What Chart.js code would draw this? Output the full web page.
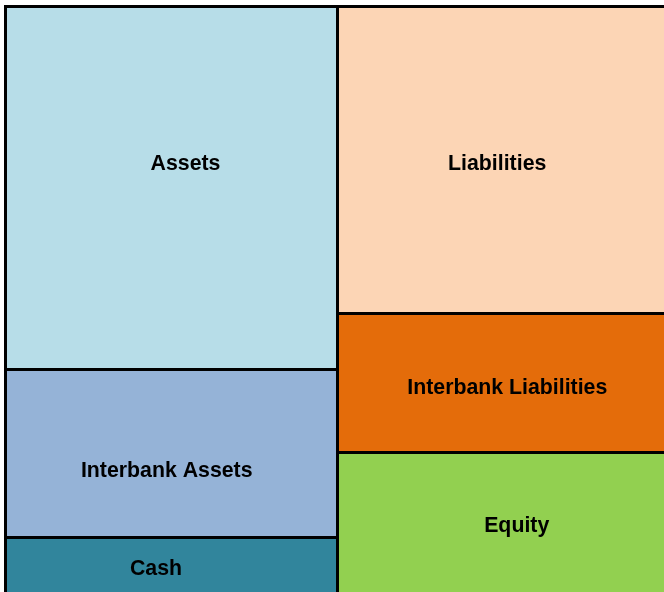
<!DOCTYPE html>
<html>
<head>
<meta charset="utf-8">
<script src="https://cdn.jsdelivr.net/npm/chart.js@4.4.1/dist/chart.umd.min.js"></script>
<style>
  html, body { margin: 0; padding: 0; background: #fff; overflow: hidden; width: 664px; height: 592px; }
  #wrap { position: absolute; left: 0; top: 0; width: 672px; height: 601px; }
</style>
</head>
<body>
<div id="wrap"><canvas id="c" width="672" height="601"></canvas></div>
<script>
// Data
const sides = ["Assets side", "Liabilities side"];
const segmentNames = ["Cash", "Interbank Assets", "Assets", "Equity", "Interbank Liabilities", "Liabilities"];
const segmentSide = [0, 0, 0, 1, 1, 1];
const segmentValues = [10.3, 28.38, 61.32, 24.66, 23.48, 51.86];
const segmentColors = ["#31859c", "#95b3d7", "#b7dde8", "#92d050", "#e46c0a", "#fcd5b5"];
// Label nudges (px) from the segment centre
const labelNudgeX = [-15.5, -4.8, 14, 13.2, 3.8, -6.3];
const labelNudgeY = [1.5, 18, -23.5, 1, 5.5, 4];

const datasets = segmentNames.map((name, i) => ({
  label: name,
  data: sides.map((s, j) => (j === segmentSide[i] ? segmentValues[i] : null)),
  backgroundColor: segmentColors[i],
  borderColor: "#000",
  borderWidth: 2,
  borderSkipped: false,
  inflateAmount: 0.5,
  barPercentage: 1,
  categoryPercentage: 1,
  stack: "s"
}));

const labelPlugin = {
  id: "segLabels",
  afterDatasetsDraw(chart) {
    const ctx = chart.ctx;
    const a = chart.chartArea;
    ctx.save();
    ctx.strokeStyle = "#000";
    ctx.lineWidth = 3;
    ctx.strokeRect(a.left, a.top, a.right - a.left, a.bottom - a.top);
    ctx.font = "bold 21.3px 'Liberation Sans', Arial, sans-serif";
    ctx.fillStyle = "#000";
    ctx.textAlign = "center";
    ctx.textBaseline = "middle";
    chart.data.datasets.forEach((ds, i) => {
      const el = chart.getDatasetMeta(i).data[segmentSide[i]];
      if (!el) return;
      const cx = el.x + labelNudgeX[i];
      const cy = (el.y + el.base) / 2 + labelNudgeY[i];
      ctx.fillText(ds.label, cx, cy);
    });
    ctx.restore();
  }
};

new Chart(document.getElementById("c"), {
  type: "bar",
  data: { labels: sides, datasets },
  options: {
    responsive: false,
    animation: false,
    devicePixelRatio: 1,
    layout: { padding: { left: 5.5, top: 6.5, right: 2.5, bottom: 2.5 } },
    plugins: { legend: { display: false }, tooltip: { enabled: false } },
    scales: {
      x: { stacked: true, display: false },
      y: { stacked: true, display: false, min: 0, max: 100 }
    }
  },
  plugins: [labelPlugin]
});
</script>
</body>
</html>
